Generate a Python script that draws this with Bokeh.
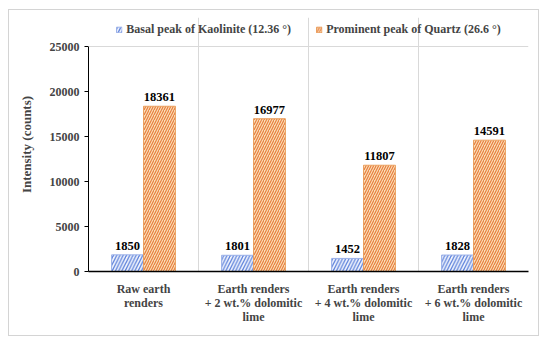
import numpy as np
from bokeh.plotting import figure
from bokeh.models import (Range1d, FixedTicker, Legend, LegendItem, ColumnDataSource, Span)
from bokeh.core.properties import value
from bokeh.embed import file_html
from bokeh.resources import INLINE

categories = ["Raw earth\nrenders",
              "Earth renders\n+ 2 wt.% dolomitic\nlime",
              "Earth renders\n+ 4 wt.% dolomitic\nlime",
              "Earth renders\n+ 6 wt.% dolomitic\nlime"]
kaolinite = [1850, 1801, 1452, 1828]
quartz = [18361, 16977, 11807, 14591]
y_ticks = [0, 5000, 10000, 15000, 20000, 25000]
series_names = ["Basal peak of Kaolinite (12.36 °)", "Prominent peak of Quartz (26.6 °)"]

FONT = "Liberation Serif"
n = len(categories)
centers = np.arange(n) + 0.5
bw = 0.29
y_max = y_ticks[-1]
# frame extends above the axis top to host the legend (29px of 225px per 25000)
y_top = y_max * (1 + 29 / 225)

p = figure(width=531, height=327, output_backend="svg", toolbar_location=None,
           x_range=Range1d(0, n), y_range=Range1d(0, y_top),
           min_border_left=79, min_border_right=12, min_border_top=7, min_border_bottom=66)
p.styles = {"border": "1px solid #d4d4d4", "box-sizing": "border-box",
            "margin-left": "8px", "margin-top": "9px"}
p.outline_line_color = None

src_k = ColumnDataSource(dict(x=centers - bw / 2, y=kaolinite, t=[str(v) for v in kaolinite]))
src_q = ColumnDataSource(dict(x=centers + bw / 2, y=quartz, t=[str(v) for v in quartz]))

rk = p.vbar(x="x", top="y", width=bw, source=src_k, fill_color="#f2f5fd",
            line_color="#9ab0e8", line_width=1,
            hatch_pattern="/", hatch_color="#5a80da", hatch_scale=6.5, hatch_weight=1.3)
rq = p.vbar(x="x", top="y", width=bw, source=src_q, fill_color="#f8dfb6",
            line_color="#eaa060", line_width=1,
            hatch_pattern="/", hatch_color="#e8783a", hatch_scale=5, hatch_weight=1.1)

for src in (src_k, src_q):
    p.text(x="x", y="y", text="t", source=src, y_offset=-5,
           text_align="center", text_baseline="bottom",
           text_font=value(FONT), text_font_style="bold", text_font_size="12.5px",
           text_color="black")

# top border line of the plot area
p.add_layout(Span(location=y_max, dimension="width", line_color="#d9d9d9", line_width=1))

# axes
p.xaxis.ticker = FixedTicker(ticks=list(centers))
p.xaxis.major_label_overrides = {float(c): lab for c, lab in zip(centers, categories)}
p.xaxis.major_tick_line_color = None
p.xaxis.minor_tick_line_color = None
p.xaxis.axis_line_color = "black"
p.xaxis.axis_line_width = 1.3
p.xaxis.major_label_text_font = FONT
p.xaxis.major_label_text_font_style = "bold"
p.xaxis.major_label_text_font_size = "12px"
p.xaxis.major_label_text_line_height = 1.0
p.xaxis.major_label_standoff = 4

p.yaxis.ticker = FixedTicker(ticks=y_ticks)
p.yaxis.bounds = (0, y_max)
p.yaxis.minor_tick_line_color = None
p.yaxis.major_tick_out = 4
p.yaxis.major_tick_in = 0
p.yaxis.axis_line_color = "black"
p.yaxis.major_tick_line_color = "black"
p.yaxis.major_label_text_font = FONT
p.yaxis.major_label_text_font_style = "bold"
p.yaxis.major_label_text_font_size = "12px"
p.yaxis.major_label_standoff = 5
p.yaxis.axis_label = "Intensity (counts)"
p.yaxis.axis_label_text_font = FONT
p.yaxis.axis_label_text_font_style = "bold"
p.yaxis.axis_label_text_font_size = "13px"
p.yaxis.axis_label_standoff = 13

p.xgrid.ticker = FixedTicker(ticks=list(np.arange(n + 1)))
p.xgrid.bounds = (0, y_max)
p.xgrid.grid_line_color = "#d9d9d9"
p.ygrid.grid_line_color = None

legend = Legend(items=[LegendItem(label=series_names[0], renderers=[rk]),
                       LegendItem(label=series_names[1], renderers=[rq])],
                orientation="horizontal", location="top_center",
                label_text_font=FONT, label_text_font_style="bold", label_text_font_size="12px",
                glyph_width=7, glyph_height=7, spacing=24, label_standoff=4,
                border_line_color=None, background_fill_alpha=0,
                padding=2, margin=5)
p.add_layout(legend, "center")

open("out.html", "w").write(file_html(p, INLINE))
